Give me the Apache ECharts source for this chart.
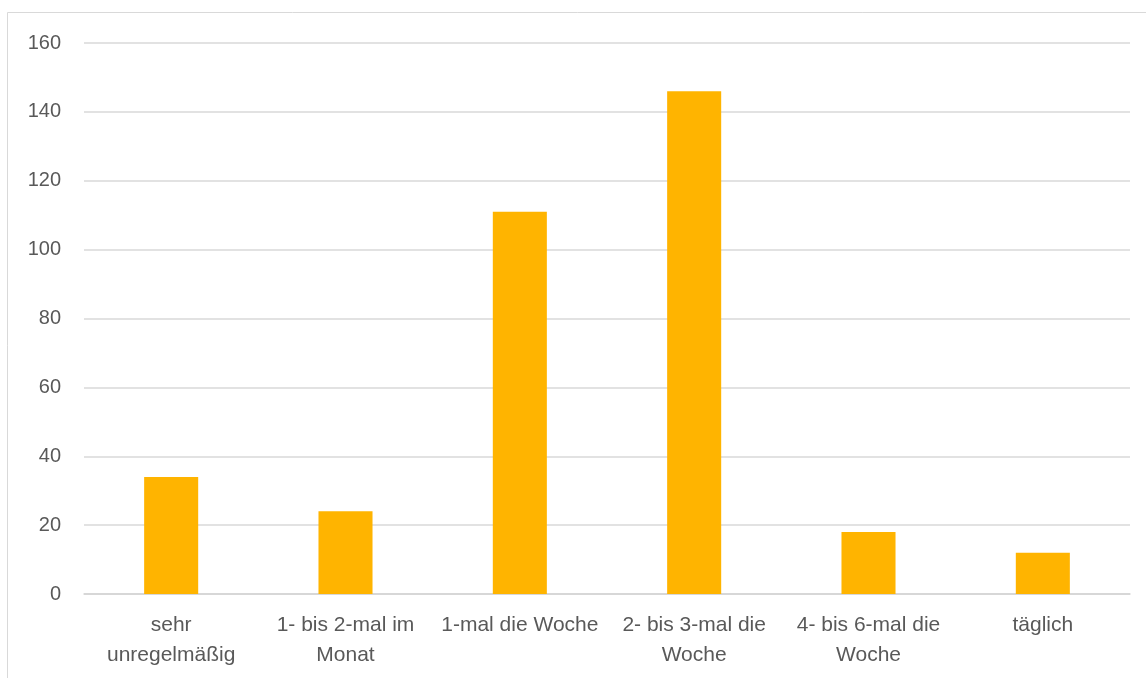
<!DOCTYPE html>
<html>
<head>
<meta charset="utf-8">
<script src="https://cdn.jsdelivr.net/npm/echarts@6/dist/echarts.min.js"></script>
<style>
html,body{margin:0;padding:0;background:#fff;}
#c{width:1146px;height:678px;}
</style>
</head>
<body>
<div id="c"></div>
<script>
const categories = ["sehr\nunregelmäßig", "1- bis 2-mal im\nMonat", "1-mal die Woche", "2- bis 3-mal die\nWoche", "4- bis 6-mal die\nWoche", "täglich"];
const values = [34, 24, 111, 146, 18, 12];
const yTicks = { min: 0, max: 160, interval: 20 };

const chart = echarts.init(document.getElementById('c'), null, { renderer: 'canvas' });
chart.setOption({
  animation: false,
  backgroundColor: '#ffffff',
  graphic: [{
    type: 'rect',
    shape: { x: 7.5, y: 12.5, width: 1200, height: 800 },
    style: { fill: 'none', stroke: '#d9d9d9', lineWidth: 1 },
    silent: true
  }],
  grid: { left: 84, right: 16, top: 43, bottom: 84, containLabel: false },
  xAxis: {
    type: 'category',
    data: categories,
    axisLine: { show: true, lineStyle: { color: '#d4d4d4', width: 1.5 } },
    axisTick: { show: false },
    axisLabel: {
      color: '#595959',
      fontFamily: 'Liberation Sans, Arial, sans-serif',
      fontSize: 21,
      lineHeight: 30,
      margin: 16,
      interval: 0
    }
  },
  yAxis: {
    type: 'value',
    min: yTicks.min,
    max: yTicks.max,
    interval: yTicks.interval,
    axisLine: { show: false },
    axisTick: { show: false },
    splitLine: { lineStyle: { color: '#d9d9d9', width: 1.5 } },
    axisLabel: {
      color: '#595959',
      fontFamily: 'Liberation Sans, Arial, sans-serif',
      fontSize: 20,
      margin: 23
    }
  },
  series: [{
    type: 'bar',
    data: values,
    barWidth: '31%',
    itemStyle: { color: '#FFB400' }
  }]
});
</script>
</body>
</html>
